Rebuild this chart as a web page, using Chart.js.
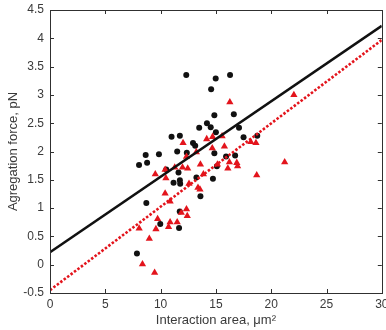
<!DOCTYPE html>
<html>
<head>
<meta charset="utf-8">
<script src="https://cdn.jsdelivr.net/npm/chart.js@4.4.1/dist/chart.umd.min.js"></script>
<style>
  html, body { margin: 0; padding: 0; background: #fff; }
  #wrap { width: 386px; height: 330px; }
</style>
</head>
<body>
<div id="wrap"><canvas id="forceChart" width="386" height="330"></canvas></div>
<script>
// black dots (first group)
const blackX = [12.32, 14.98, 16.28, 14.57, 14.86, 16.62, 14.19, 14.53, 13.49, 17.09,
                15.0, 17.50, 18.74, 11.74, 10.99, 12.93, 13.13, 11.50, 12.37, 9.85,
                8.65, 8.05, 8.78, 14.86, 15.92, 16.74, 15.09, 10.51, 11.62, 11.17,
                11.74, 11.77, 13.24, 14.73, 13.60, 8.71, 11.73, 9.97, 11.67, 7.86];
const blackY = [3.35, 3.29, 3.35, 3.10, 2.64, 2.66, 2.50, 2.43, 2.42, 2.42,
                2.34, 2.25, 2.28, 2.28, 2.26, 2.15, 2.10, 2.00, 1.98, 1.95,
                1.94, 1.76, 1.80, 1.97, 1.91, 1.93, 1.74, 1.68, 1.63, 1.45,
                1.49, 1.43, 1.54, 1.52, 1.21, 1.09, 0.94, 0.72, 0.65, 0.20];

// red triangles (second group)
const redX = [16.26, 22.05, 14.17, 14.70, 15.56, 14.67, 15.77, 18.15, 18.62, 12.03,
              13.23, 12.34, 15.14, 16.22, 16.89, 16.96, 16.08, 21.22, 18.69, 13.60,
              10.41, 11.28, 11.98, 12.45, 9.52, 10.48, 13.87, 12.57, 13.38, 13.56,
              10.41, 10.86, 12.34, 11.87, 12.41, 9.73, 10.86, 11.50, 10.72, 9.58,
              8.06, 8.98, 8.36, 9.46];
const redY = [2.87, 3.00, 2.22, 2.26, 2.27, 2.06, 2.09, 2.17, 2.15, 2.15,
              1.99, 1.91, 1.77, 1.81, 1.80, 1.74, 1.70, 1.81, 1.58, 1.77,
              1.68, 1.72, 1.72, 1.70, 1.60, 1.53, 1.60, 1.43, 1.36, 1.33,
              1.26, 1.12, 0.98, 0.92, 0.86, 0.81, 0.75, 0.75, 0.67, 0.63,
              0.64, 0.46, 0.01, -0.14];

// fitted lines, end points
const fitX = [0, 30];
const blackFit = [0.22, 4.22];
const redFit = [-0.45, 3.97];

const xTicks = [0, 5, 10, 15, 20, 25, 30];
const yTicks = [-0.5, 0, 0.5, 1, 1.5, 2, 2.5, 3, 3.5, 4, 4.5];

const toPoints = (xs, ys) => xs.map((x, i) => ({ x: x, y: ys[i] }));

const axisColor = '#303030';
const textColor = '#3a3a3a';
const redColor = '#e3141c';

// Matlab style box with inward ticks
const boxPlugin = {
    id: 'boxTicks',
    afterDraw(chart) {
        const ctx = chart.ctx;
        const a = chart.chartArea;
        const xs = chart.scales.x, ys = chart.scales.y;
        const len = 4;
        ctx.save();
        ctx.strokeStyle = axisColor;
        ctx.lineWidth = 1;
        ctx.strokeRect(Math.round(a.left) + 0.5, Math.round(a.top) + 0.5,
                       Math.round(a.right - a.left), Math.round(a.bottom - a.top));
        ctx.beginPath();
        xTicks.forEach(v => {
            const px = Math.round(xs.getPixelForValue(v)) + 0.5;
            ctx.moveTo(px, a.bottom); ctx.lineTo(px, a.bottom - len);
            ctx.moveTo(px, a.top); ctx.lineTo(px, a.top + len);
        });
        yTicks.forEach(v => {
            const py = Math.round(ys.getPixelForValue(v)) + 0.5;
            ctx.moveTo(a.left, py); ctx.lineTo(a.left + len, py);
            ctx.moveTo(a.right, py); ctx.lineTo(a.right - len, py);
        });
        ctx.stroke();
        ctx.restore();
    }
};

const ctx = document.getElementById('forceChart').getContext('2d');
const forceChart = new Chart(ctx, {
    type: 'scatter',
    data: {
        datasets: [{
            label: 'fit 1',
            data: toPoints(fitX, blackFit),
            showLine: true,
            borderColor: '#111',
            borderWidth: 2.6,
            pointRadius: 0,
            order: 1
        }, {
            label: 'fit 2',
            data: toPoints(fitX, redFit),
            showLine: true,
            borderColor: redColor,
            borderWidth: 2.6,
            borderDash: [2.5, 1.8],
            pointRadius: 0,
            order: 2
        }, {
            label: 'group 2',
            data: toPoints(redX, redY),
            pointStyle: 'triangle',
            pointRadius: 4.2,
            backgroundColor: redColor,
            borderColor: redColor,
            borderWidth: 0,
            order: 3
        }, {
            label: 'group 1',
            data: toPoints(blackX, blackY),
            pointStyle: 'circle',
            pointRadius: 3,
            backgroundColor: '#111',
            borderColor: '#111',
            borderWidth: 0,
            order: 4
        }]
    },
    options: {
        responsive: false,
        animation: false,
        layout: { padding: { top: 10, right: 3, left: 0, bottom: 0 } },
        plugins: {
            legend: { display: false },
            tooltip: { enabled: false }
        },
        scales: {
            x: {
                type: 'linear',
                min: 0,
                max: 30,
                afterBuildTicks: s => { s.ticks = xTicks.map(v => ({ value: v })); },
                afterFit: s => { s.height = 37; s.paddingLeft = 0; s.paddingRight = 0; },
                grid: { display: false, drawTicks: false },
                border: { display: false },
                ticks: {
                    color: textColor,
                    font: { family: 'Liberation Sans', size: 12 },
                    padding: 4,
                    maxRotation: 0,
                    callback: v => String(v)
                },
                title: {
                    display: true,
                    text: 'Interaction area, μm²',
                    color: textColor,
                    font: { family: 'Liberation Sans', size: 13 },
                    padding: { top: 0, bottom: 2 }
                }
            },
            y: {
                type: 'linear',
                min: -0.5,
                max: 4.5,
                afterBuildTicks: s => { s.ticks = yTicks.map(v => ({ value: v })); },
                afterFit: s => { s.width = 50; s.paddingTop = 0; s.paddingBottom = 0; },
                grid: { display: false, drawTicks: false },
                border: { display: false },
                ticks: {
                    color: textColor,
                    font: { family: 'Liberation Sans', size: 12 },
                    padding: 6,
                    callback: v => String(v)
                },
                title: {
                    display: true,
                    text: 'Agregation force, pN',
                    color: textColor,
                    font: { family: 'Liberation Sans', size: 13 },
                    padding: { top: 6, bottom: 0 }
                }
            }
        }
    },
    plugins: [boxPlugin]
});
</script>
</body>
</html>
